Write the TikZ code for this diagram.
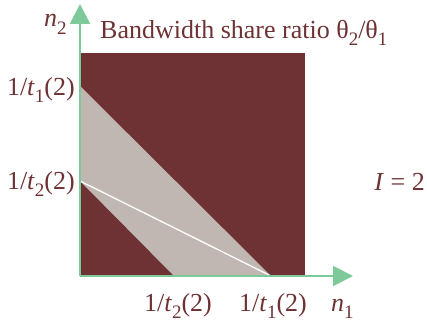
\documentclass[tikz,border=0pt]{standalone}
\usepackage{fontspec}
\setmainfont{Liberation Serif}
\usetikzlibrary{arrows.meta}
\definecolor{dred}{HTML}{6E3234}
\definecolor{lgray}{HTML}{C1B7B2}
\definecolor{axgreen}{HTML}{7DC99A}
\newcommand\sbs[1]{\raisebox{-0.28em}{\fontsize{19}{19}\selectfont #1}}
\begin{document}
\begin{tikzpicture}[x=1pt,y=-1pt,
  lbl/.style={text=dred,font=\fontsize{26}{28}\selectfont,inner sep=0pt},
  axis/.style={axgreen,line width=2pt,-{Triangle[length=20pt,width=20pt]}}]
\useasboundingbox (0,0) rectangle (427,321);
\fill[dred] (80,53) rectangle (305,276);
\fill[lgray] (80,86) -- (271,276) -- (174,276) -- (80,181) -- cycle;
\coordinate (O) at (80,276);
\coordinate (X) at (353,276);
\coordinate (Y) at (80,4);
\coordinate (A) at (80,181);
\coordinate (B) at (271,276);
\draw[white,line width=1.3pt] (A) -- (B);
\draw[axis] (O) -- (X);
\draw[axis] (O) -- (Y);
\node[lbl,anchor=base east] (l1) at (75,95) {1/\textit{t}\sbs{1}(2)};
\node[lbl,anchor=base east] (l2) at (75,189) {1/\textit{t}\sbs{2}(2)};
\node[lbl,anchor=base] (b2) at (178,311) {1/\textit{t}\sbs{2}(2)};
\node[lbl,anchor=base] (b1) at (273,311) {1/\textit{t}\sbs{1}(2)};
\node[lbl,anchor=base west] (n1) at (331,311) {\textit{n}\sbs{1}};
\node[lbl,anchor=base west] (n2) at (44,27) {\textit{n}\sbs{2}};
\node[lbl,anchor=base west] (title) at (100,38) {Bandwidth share ratio θ\sbs{2}/θ\sbs{1}};
\node[lbl,anchor=base east] (I) at (425,190) {\textit{I} = 2};
\end{tikzpicture}
\end{document}
